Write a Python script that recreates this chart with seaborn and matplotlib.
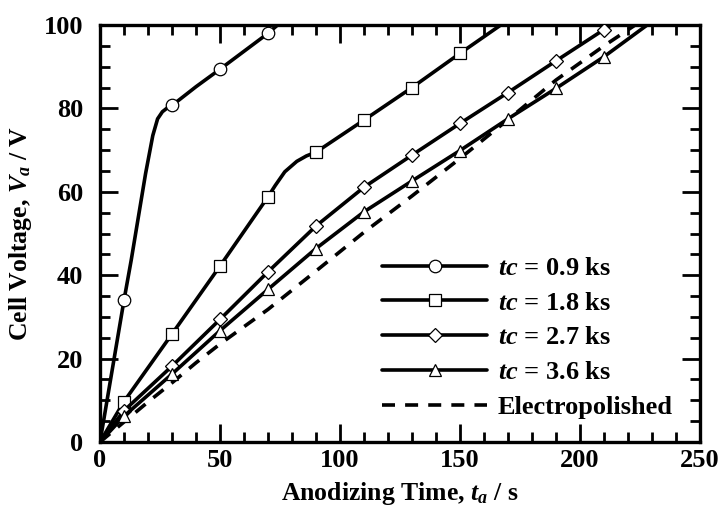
import numpy as np
import pandas as pd
import matplotlib
matplotlib.use("Agg")
import matplotlib.pyplot as plt
import seaborn as sns
from matplotlib.ticker import MultipleLocator

# ---- data ----
t_09 = [0, 5, 10, 13, 16, 19, 22, 24, 26, 28, 30, 40, 50, 60, 70, 74]
v_09 = [0, 17, 34, 43.6, 54, 64.4, 73.5, 77.5, 79.2, 80.1, 80.7, 85.2, 89.4, 93.7, 98.0, 100]

t_18 = [0, 10, 30, 50, 70, 73, 77, 82, 86, 90, 110, 130, 150, 167]
v_18 = [0, 9.7, 25.9, 42.2, 58.8, 61.5, 64.8, 67.3, 68.6, 69.5, 77.2, 85.0, 93.2, 100]

t_27 = [0, 10, 30, 50, 70, 90, 110, 130, 150, 170, 190, 210, 213]
v_27 = [0, 7.5, 18.2, 29.4, 40.8, 51.8, 61.1, 68.8, 76.4, 83.8, 91.4, 98.9, 100]

t_36 = [0, 10, 30, 50, 70, 90, 110, 130, 150, 170, 190, 210, 228]
v_36 = [0, 6.2, 16.3, 26.7, 36.6, 46.4, 55.2, 62.6, 69.9, 77.5, 84.8, 92.4, 100]

t_ep = [0, 10, 20, 30, 40, 50, 70, 90, 110, 130, 150, 170, 190, 210, 223]
v_ep = [0, 4.8, 9.6, 14.2, 19.0, 23.5, 31.8, 41.0, 50.3, 59.0, 68.0, 77.3, 86.8, 95.0, 100]

labels = [r"$tc$ = 0.9 ks", r"$tc$ = 1.8 ks", r"$tc$ = 2.7 ks", r"$tc$ = 3.6 ks", "Electropolished"]
xticks = [0, 50, 100, 150, 200, 250]
yticks = [0, 20, 40, 60, 80, 100]

# ---- style ----
sns.set_style("ticks")
plt.rcParams["font.family"] = ["Liberation Serif", "DejaVu Serif"]
plt.rcParams["font.weight"] = "bold"
plt.rcParams["mathtext.fontset"] = "custom"
plt.rcParams["mathtext.rm"] = "Liberation Serif:bold"
plt.rcParams["mathtext.it"] = "Liberation Serif:italic:bold"
plt.rcParams["mathtext.bf"] = "Liberation Serif:bold"
plt.rcParams["axes.linewidth"] = 2.4
for k in ["text.color", "axes.labelcolor", "xtick.color", "ytick.color", "axes.edgecolor"]:
    plt.rcParams[k] = "black"

fig = plt.figure(figsize=(7.23, 5.11), dpi=100)
ax = fig.add_axes([100/723, 1-442/511, 600/723, 417/511])

series = [
    (t_09, v_09, "o", 9.0),
    (t_18, v_18, "s", 9.0),
    (t_27, v_27, "D", 7.0),
    (t_36, v_36, "^", 9.0),
]

for (t, v, m, ms), lab in zip(series, labels):
    df = pd.DataFrame({"t": t, "v": v})
    mk = [i for i, x in enumerate(t) if x % 20 == 10]
    sns.lineplot(data=df, x="t", y="v", ax=ax, color="black", linewidth=2.6,
                 marker=m, markersize=ms, markerfacecolor="white",
                 markeredgecolor="black", markeredgewidth=0.9,
                 markevery=mk, sort=False, label=lab, zorder=3)

df_ep = pd.DataFrame({"t": t_ep, "v": v_ep})
sns.lineplot(data=df_ep, x="t", y="v", ax=ax, color="black", linewidth=2.6,
             sort=False, label=labels[4], zorder=2)
ax.lines[-1].set_dashes((3.6, 2.8))

ax.set_xlim(0, 250)
ax.set_ylim(0, 100)
ax.set_xticks(xticks)
ax.set_yticks(yticks)
ax.xaxis.set_minor_locator(MultipleLocator(10))
ax.yaxis.set_minor_locator(MultipleLocator(5))
ax.tick_params(which="both", direction="in", top=True, right=True, width=2.0, color="black")
ax.tick_params(which="major", length=13, labelsize=19, labelcolor="black")
ax.tick_params(which="minor", length=7)
ax.tick_params(axis="x", pad=5)
ax.tick_params(axis="y", pad=12)
for lab in ax.get_xticklabels() + ax.get_yticklabels():
    lab.set_fontweight("bold")

ax.set_xlabel(r"Anodizing Time, $t_a$ / s", fontsize=18.5, fontweight="bold", labelpad=6, color="black")
ax.set_ylabel(r"Cell Voltage, $V_a$ / V", fontsize=18.5, fontweight="bold", labelpad=7, color="black")

leg = ax.legend(loc="lower right", bbox_to_anchor=(0.955, 0.055), frameon=False,
                fontsize=19, handlelength=4.0, handletextpad=0.4,
                labelspacing=0.43, borderpad=0, borderaxespad=0)
for txt in leg.get_texts():
    txt.set_fontweight("bold")
    txt.set_color("black")

fig.savefig("out.png", dpi=100)
